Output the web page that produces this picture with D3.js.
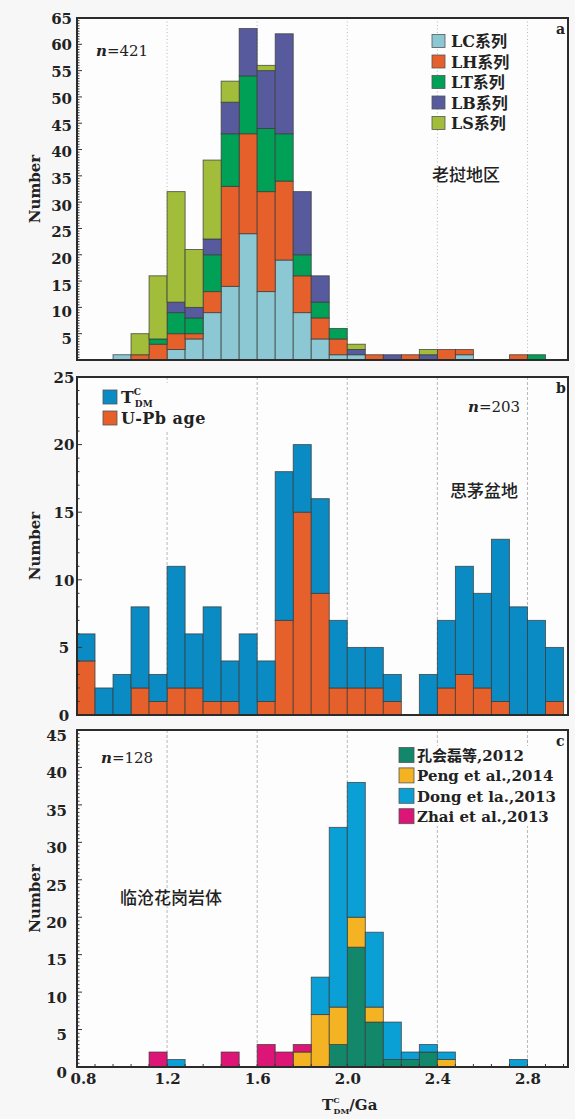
<!DOCTYPE html>
<html>
<head>
<meta charset="utf-8">
<script src="https://cdn.jsdelivr.net/npm/d3@7"></script>
<style>
  body { margin: 0; background: #f7f7f7; }
  svg text { font-family: "DejaVu Serif", "Noto Sans CJK SC", serif; fill: #222; }
</style>
</head>
<body>
<div id="chart"></div>
<script>
// ---- panel a : 老挝地区 (bin start, Ga; bin width 0.08) ----
const binsA = [0.96, 1.04, 1.12, 1.20, 1.28, 1.36, 1.44, 1.52, 1.60, 1.68, 1.76, 1.84,
  1.92, 2.00, 2.08, 2.16, 2.24, 2.32, 2.40, 2.48, 2.56, 2.64, 2.72, 2.80];
const LC = [1, 0, 0, 2, 4, 9, 14, 24, 13, 19, 9, 4, 1, 1, 0, 0, 0, 0, 0, 1, 0, 0, 0, 0];
const LH = [0, 1, 3, 3, 1, 4, 19, 19, 19, 15, 7, 4, 3, 0, 1, 0, 1, 0, 2, 1, 0, 0, 1, 0];
const LT = [0, 0, 1, 4, 3, 7, 10, 11, 12, 9, 4, 3, 2, 0, 0, 0, 0, 0, 0, 0, 0, 0, 0, 1];
const LB = [0, 0, 0, 2, 2, 3, 6, 9, 11, 19, 12, 5, 0, 1, 0, 1, 0, 1, 0, 0, 0, 0, 0, 0];
const LS = [0, 4, 12, 21, 11, 15, 4, 0, 1, 0, 0, 0, 0, 1, 0, 0, 0, 1, 0, 0, 0, 0, 0, 0];

// ---- panel b : 思茅盆地 ----
const binsB = [0.80, 0.88, 0.96, 1.04, 1.12, 1.20, 1.28, 1.36, 1.44, 1.52, 1.60, 1.68, 1.76,
  1.84, 1.92, 2.00, 2.08, 2.16, 2.24, 2.32, 2.40, 2.48, 2.56, 2.64, 2.72, 2.80, 2.88];
const upb = [4, 0, 0, 2, 1, 2, 2, 1, 1, 0, 1, 7, 15, 9, 2, 2, 2, 1, 0, 0, 2, 3, 2, 1, 0, 0, 1];
const tdm = [2, 2, 3, 6, 2, 9, 4, 7, 3, 6, 3, 11, 5, 7, 5, 3, 3, 2, 0, 3, 5, 8, 7, 12, 8, 7, 4];

// ---- panel c : 临沧花岗岩体 ----
const binsC = [1.12, 1.20, 1.28, 1.36, 1.44, 1.52, 1.60, 1.68, 1.76, 1.84, 1.92, 2.00, 2.08,
  2.16, 2.24, 2.32, 2.40, 2.48, 2.56, 2.64, 2.72];
const kong = [0, 0, 0, 0, 0, 0, 0, 0, 0, 0, 3, 16, 6, 1, 1, 2, 0, 0, 0, 0, 0];
const peng = [0, 0, 0, 0, 0, 0, 0, 0, 2, 7, 5, 4, 2, 0, 0, 0, 1, 0, 0, 0, 0];
const dong = [0, 1, 0, 0, 0, 0, 0, 0, 0, 5, 24, 18, 10, 5, 1, 1, 1, 0, 0, 0, 1];
const zhai = [2, 0, 0, 0, 2, 0, 3, 2, 1, 0, 0, 0, 0, 0, 0, 0, 0, 0, 0, 0, 0];

const binWidth = 0.08;
const gridTicks = [1.2, 1.6, 2.0, 2.4, 2.8];
const xTickLabels = [0.8, 1.2, 1.6, 2.0, 2.4, 2.8];

const width = 575, height = 1119;
const svg = d3.select("#chart").append("svg")
  .attr("width", width).attr("height", height);

const x = d3.scaleLinear().domain([0.8, 2.98]).range([77, 568]);

const panels = [
  { id: "a", top: 18, bottom: 360, ymax: 65, ticks: d3.range(5, 66, 5), minor: 0.5,
    gridDash: "1,2.5", labelShift: v => 5 * (1 - v / 65), labelX: -5, anchor: "end",
    bins: binsA, keys: ["LC", "LH", "LT", "LB", "LS"],
    series: { LC, LH, LT, LB, LS },
    colors: ["#8cc8d4", "#e5602a", "#00a056", "#585a9e", "#a2bd3a"] },
  { id: "b", top: 377, bottom: 715, ymax: 25, ticks: d3.range(0, 26, 5), minor: 1,
    gridDash: "3,2", labelShift: () => 0, labelX: -13, anchor: "middle",
    bins: binsB, keys: ["upb", "tdm"],
    series: { upb, tdm },
    colors: ["#e5602a", "#0a8bc3"] },
  { id: "c", top: 730, bottom: 1067, ymax: 45, ticks: d3.range(0, 46, 5), minor: 0.5,
    gridDash: "3,2", labelShift: () => 5, labelX: -10, anchor: "end",
    bins: binsC, keys: ["kong", "peng", "dong", "zhai"],
    series: { kong, peng, dong, zhai },
    colors: ["#13876a", "#f4b323", "#0aa0d6", "#dd1577"] }
];

panels.forEach(p => {
  const y = d3.scaleLinear().domain([0, p.ymax]).range([p.bottom, p.top]);
  p.y = y;
  const g = svg.append("g").attr("class", "panel-" + p.id);

  g.append("rect")
    .attr("x", x.range()[0]).attr("y", p.top)
    .attr("width", x.range()[1] - x.range()[0]).attr("height", p.bottom - p.top)
    .attr("fill", "#fdfdfd");

  // grid
  g.selectAll(".grid").data(gridTicks).enter().append("line")
    .attr("x1", d => x(d)).attr("x2", d => x(d))
    .attr("y1", p.top).attr("y2", p.bottom)
    .attr("stroke", "#b8b8b8").attr("stroke-width", 1)
    .attr("stroke-dasharray", p.gridDash);

  // bars
  const rows = p.bins.map((b, i) => {
    const r = { bin: b };
    p.keys.forEach(k => r[k] = p.series[k][i]);
    return r;
  });
  const stacked = d3.stack().keys(p.keys)(rows);
  stacked.forEach((layer, li) => {
    g.append("g").selectAll("rect")
      .data(layer.filter(d => d[1] - d[0] > 0))
      .enter().append("rect")
      .attr("x", d => x(d.data.bin))
      .attr("width", d => x(d.data.bin + binWidth) - x(d.data.bin))
      .attr("y", d => y(d[1]))
      .attr("height", d => y(d[0]) - y(d[1]))
      .attr("fill", p.colors[li])
      .attr("stroke", "#3a3a3a").attr("stroke-width", 0.9).attr("stroke-opacity", 0.8);
  });

  // minor ticks on y axis
  g.selectAll(".minor").data(d3.range(0, p.ymax + 0.01, p.minor)).enter().append("line")
    .attr("x1", x.range()[0]).attr("x2", d => x.range()[0] + (d % 5 === 0 ? 5 : 2.5))
    .attr("y1", d => y(d)).attr("y2", d => y(d))
    .attr("stroke", "#333").attr("stroke-width", 1);

  // y axis labels
  const axis = g.append("g").attr("transform", `translate(${x.range()[0]},0)`)
    .call(d3.axisLeft(y).tickValues(p.ticks).tickSize(0).tickPadding(0));
  axis.select(".domain").remove();
  axis.selectAll("text")
    .attr("x", p.labelX)
    .attr("dy", "0.35em")
    .attr("transform", d => `translate(0,${p.labelShift(d)})`)
    .attr("text-anchor", p.anchor)
    .style("font-family", "DejaVu Serif")
    .style("font-weight", "bold")
    .style("font-size", "15px")
    .style("fill", "#222");

  // frame
  g.append("rect")
    .attr("x", x.range()[0]).attr("y", p.top)
    .attr("width", x.range()[1] - x.range()[0]).attr("height", p.bottom - p.top)
    .attr("fill", "none").attr("stroke", "#2b2b2b").attr("stroke-width", 2);

  // y title
  g.append("text")
    .attr("transform", `translate(40,${(p.top + p.bottom) / 2}) rotate(-90)`)
    .attr("text-anchor", "middle")
    .style("font-size", "15px").style("font-weight", "bold")
    .text("Number");
});

// ---- x axis of panel c ----
const pc = panels[2];
const xAxis = svg.append("g").attr("transform", `translate(0,${pc.bottom})`)
  .call(d3.axisBottom(x).tickValues(xTickLabels).tickSize(0).tickPadding(6)
    .tickFormat(d3.format(".1f")));
xAxis.select(".domain").remove();
xAxis.selectAll("text")
  .attr("dx", d => d === 0.8 ? 6 : 0)
  .style("font-family", "DejaVu Serif").style("font-weight", "bold")
  .style("font-size", "15px").style("fill", "#222");
svg.append("g").selectAll("line")
  .data(d3.range(0.88, 2.97, 0.08)).enter().append("line")
  .attr("x1", d => x(d)).attr("x2", d => x(d))
  .attr("y1", pc.bottom).attr("y2", pc.bottom - 3)
  .attr("stroke", "#333");

const xt = svg.append("text").attr("x", 322).attr("y", 1110)
  .style("font-size", "15px").style("font-weight", "bold");
xt.append("tspan").text("T");
xt.append("tspan").attr("dy", -7).style("font-size", "8px").text("C");
xt.append("tspan").attr("dx", -6).attr("dy", 11).style("font-size", "8px").text("DM");
xt.append("tspan").attr("dy", -4).text("/Ga");

// ---- panel a annotations ----
const nA = svg.append("text").attr("x", 96).attr("y", 56).style("font-size", "15px");
nA.append("tspan").style("font-style", "italic").style("font-weight", "bold").text("n");
nA.append("tspan").text("=421");

const legA = svg.append("g");
panels[0].keys.forEach((k, i) => {
  const cy = 41 + i * 20.5;
  legA.append("rect").attr("x", 432).attr("y", cy - 6.5).attr("width", 13).attr("height", 13)
    .attr("fill", panels[0].colors[i]).attr("stroke", "#555").attr("stroke-width", 0.8);
  legA.append("text").attr("x", 451).attr("y", cy + 6)
    .style("font-size", "16px").style("font-weight", "bold").text(k + "系列");
});
svg.append("text").attr("x", 466).attr("y", 181).attr("text-anchor", "middle")
  .style("font-size", "17px").style("font-family", "Noto Sans CJK SC").style("font-weight", 500)
  .text("老挝地区");

// ---- panel b annotations ----
svg.append("rect").attr("x", 98).attr("y", 383).attr("width", 115).attr("height", 48)
  .attr("fill", "#fdfdfd");
const legB = [{ c: panels[1].colors[1], y: 397 }, { c: panels[1].colors[0], y: 418 }];
legB.forEach(d => {
  svg.append("rect").attr("x", 103).attr("y", d.y - 7).attr("width", 14).attr("height", 14)
    .attr("fill", d.c).attr("stroke", "#555").attr("stroke-width", 0.8);
});
const tB = svg.append("text").attr("x", 121).attr("y", 403)
  .style("font-size", "17px").style("font-weight", "bold");
tB.append("tspan").text("T");
tB.append("tspan").attr("dy", -8).style("font-size", "9px").text("C");
tB.append("tspan").attr("dx", -6).attr("dy", 12).style("font-size", "9px").text("DM");
svg.append("text").attr("x", 121).attr("y", 424)
  .style("font-size", "16px").style("font-weight", "bold").style("letter-spacing", "0.5px")
  .text("U-Pb age");
const nB = svg.append("text").attr("x", 468).attr("y", 412).style("font-size", "15px");
nB.append("tspan").style("font-style", "italic").style("font-weight", "bold").text("n");
nB.append("tspan").text("=203");
svg.append("text").attr("x", 484).attr("y", 497).attr("text-anchor", "middle")
  .style("font-size", "17px").style("font-family", "Noto Sans CJK SC").style("font-weight", 500)
  .text("思茅盆地");

// ---- panel c annotations ----
const nC = svg.append("text").attr("x", 101).attr("y", 763).style("font-size", "15px");
nC.append("tspan").style("font-style", "italic").style("font-weight", "bold").text("n");
nC.append("tspan").text("=128");
svg.append("text").attr("x", 171).attr("y", 904).attr("text-anchor", "middle")
  .style("font-size", "17px").style("font-family", "Noto Sans CJK SC").style("font-weight", 500)
  .text("临沧花岗岩体");

const legCNames = ["孔会磊等,2012", "Peng et al.,2014", "Dong et la.,2013", "Zhai et al.,2013"];
svg.append("rect").attr("x", 396).attr("y", 746).attr("width", 158).attr("height", 80)
  .attr("fill", "#fdfdfd");
legCNames.forEach((name, i) => {
  const cy = 755 + i * 20.4;
  svg.append("rect").attr("x", 399).attr("y", cy - 7.5).attr("width", 15).attr("height", 15)
    .attr("fill", panels[2].colors[i]).attr("stroke", "#555").attr("stroke-width", 0.8);
  svg.append("text").attr("x", 417).attr("y", cy + 6)
    .style("font-size", "15px").style("font-weight", "bold").text(name);
});

// panel letters on top
panels.forEach(p => {
  svg.append("text").attr("x", 556).attr("y", p.top + 16)
    .style("font-size", "14px").style("font-weight", "bold").text(p.id);
});
</script>
</body>
</html>
